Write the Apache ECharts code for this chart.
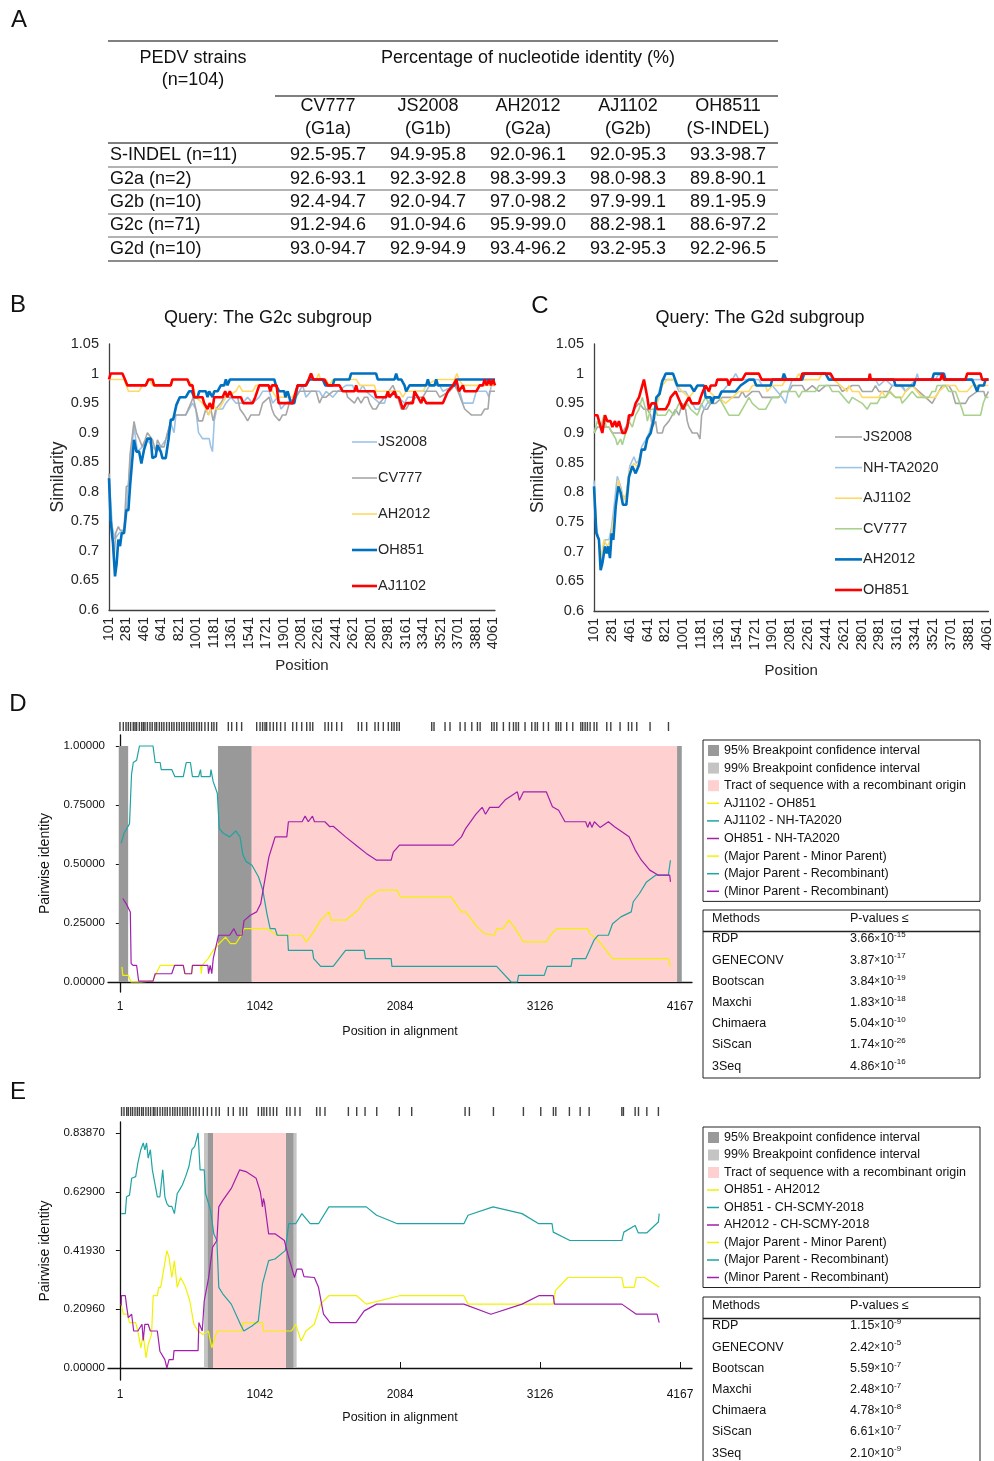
<!DOCTYPE html>
<html>
<head>
<meta charset="utf-8">
<script src="https://cdn.jsdelivr.net/npm/echarts@6/dist/echarts.min.js"></script>
<style>
html,body{margin:0;padding:0;background:#fff;}
#c{width:994px;height:1461px;}
</style>
</head>
<body>
<div id="c"></div>
<script>
// ---------------- DATA ----------------
// Panel A table
const tableHeaderCols = [['CV777','(G1a)'],['JS2008','(G1b)'],['AH2012','(G2a)'],['AJ1102','(G2b)'],['OH8511','(S-INDEL)']];
const tableRowLabels = ['S-INDEL (n=11)','G2a (n=2)','G2b (n=10)','G2c (n=71)','G2d (n=10)'];
const tableValues = [
  ['92.5-95.7','94.9-95.8','92.0-96.1','92.0-95.3','93.3-98.7'],
  ['92.6-93.1','92.3-92.8','98.3-99.3','98.0-98.3','89.8-90.1'],
  ['92.4-94.7','92.0-94.7','97.0-98.2','97.9-99.1','89.1-95.9'],
  ['91.2-94.6','91.0-94.6','95.9-99.0','88.2-98.1','88.6-97.2'],
  ['93.0-94.7','92.9-94.9','93.4-96.2','93.2-95.3','92.2-96.5']
];

// Panels B/C position tick labels
const simPlotTicks = [101,281,461,641,821,1001,1181,1361,1541,1721,1901,2081,2261,2441,2621,2801,2981,3161,3341,3521,3701,3881,4061];

// Panel B (query G2c)
const B_JS2008 = [[101,0.83],[135,0.74],[163,0.72],[204,0.73],[256,0.735],[290,0.79],[325,0.86],[359,0.91],[394,0.868],[445,0.876],[497,0.888],[549,0.876],[600,0.868],[635,0.876],[686,0.888],[738,0.916],[772,0.9],[790,0.93],[893,0.93],[962,0.95],[996,0.94],[1024,0.9],[1065,0.89],[1134,0.89],[1151,0.876],[1168,0.868],[1186,0.92],[1210,0.94],[1272,0.94],[1306,0.95],[1358,0.96],[1409,0.95],[1478,0.95],[1530,0.96],[1582,0.95],[1650,0.96],[1685,0.97],[1753,0.97],[1788,0.95],[1840,0.96],[1874,0.94],[1926,0.95],[2029,0.96],[2098,0.98],[2132,0.96],[2184,0.97],[2271,0.97],[2305,0.96],[2339,0.97],[2408,0.96],[2460,0.97],[2545,0.98],[2614,0.98],[2632,0.97],[2683,0.97],[2718,0.98],[2752,0.97],[2821,0.96],[2890,0.95],[2942,0.95],[2959,0.96],[2993,0.97],[3045,0.97],[3079,0.96],[3148,0.95],[3183,0.96],[3234,0.96],[3269,0.97],[3372,0.97],[3406,0.98],[3510,0.98],[3544,0.97],[3664,0.98],[3716,0.97],[3751,0.95],[3854,0.95],[3888,0.97],[3991,0.97],[4019,0.96],[4043,0.98],[4081,0.98]];
const B_CV777 = [[101,0.831],[118,0.752],[142,0.713],[153,0.685],[170,0.73],[197,0.741],[215,0.735],[256,0.735],[280,0.809],[301,0.81],[318,0.863],[359,0.919],[383,0.9],[411,0.89],[445,0.876],[473,0.888],[497,0.9],[549,0.888],[583,0.868],[600,0.888],[635,0.876],[669,0.876],[704,0.9],[738,0.919],[790,0.93],[893,0.93],[945,0.95],[969,0.96],[996,0.94],[1024,0.92],[1065,0.92],[1100,0.94],[1127,0.93],[1151,0.94],[1175,0.92],[1203,0.94],[1254,0.95],[1289,0.96],[1427,0.96],[1451,0.94],[1495,0.93],[1530,0.92],[1564,0.93],[1650,0.93],[1685,0.95],[1753,0.96],[1781,0.94],[1805,0.93],[1857,0.92],[1891,0.93],[1926,0.93],[1960,0.95],[2029,0.96],[2064,0.97],[2236,0.97],[2271,0.95],[2298,0.96],[2339,0.96],[2408,0.97],[2511,0.97],[2545,0.97],[2562,0.96],[2632,0.95],[2666,0.96],[2700,0.95],[2735,0.96],[2769,0.96],[2787,0.95],[2821,0.94],[2855,0.94],[2890,0.95],[2942,0.96],[3028,0.98],[3079,0.96],[3114,0.94],[3165,0.94],[3200,0.95],[3269,0.96],[3338,0.96],[3372,0.97],[3475,0.97],[3510,0.96],[3613,0.97],[3664,0.98],[3699,0.97],[3768,0.94],[3837,0.93],[3940,0.93],[3974,0.94],[4009,0.94],[4026,0.97],[4081,0.97]];
const B_AH2012 = [[101,0.99],[256,0.99],[280,0.98],[301,0.97],[411,0.97],[445,0.98],[480,0.98],[514,0.99],[549,0.98],[738,0.98],[755,0.99],[910,0.99],[962,0.98],[996,0.96],[1065,0.95],[1100,0.94],[1134,0.93],[1168,0.95],[1203,0.94],[1237,0.94],[1272,0.95],[1306,0.96],[1409,0.97],[1444,0.98],[1478,0.97],[1582,0.97],[1616,0.98],[1753,0.98],[1788,0.97],[1822,0.96],[1995,0.96],[2046,0.98],[2132,0.98],[2167,0.99],[2236,0.99],[2264,1.0],[2281,0.99],[2339,0.99],[2374,0.98],[2408,0.99],[2580,0.99],[2649,0.99],[2690,0.98],[2838,0.98],[2855,0.97],[3045,0.97],[3097,0.97],[3131,0.96],[3165,0.97],[3338,0.97],[3372,0.98],[3475,0.99],[3664,0.99],[3688,1.0],[3709,0.99],[3751,0.98],[4081,0.98]];
const B_OH851 = [[101,0.823],[118,0.752],[142,0.713],[163,0.657],[180,0.679],[197,0.719],[215,0.708],[232,0.73],[256,0.73],[280,0.769],[301,0.769],[318,0.809],[335,0.843],[359,0.888],[383,0.868],[411,0.868],[435,0.848],[462,0.871],[497,0.89],[531,0.89],[549,0.857],[583,0.86],[600,0.879],[635,0.868],[652,0.857],[686,0.857],[714,0.888],[738,0.922],[762,0.922],[796,0.947],[831,0.96],[893,0.96],[927,0.97],[955,0.97],[979,0.96],[1014,0.96],[1031,0.97],[1100,0.97],[1117,0.96],[1134,0.97],[1168,0.96],[1186,0.97],[1220,0.97],[1254,0.98],[1289,0.98],[1306,0.99],[1323,0.98],[1347,0.99],[1805,0.99],[1822,0.98],[1857,0.97],[1909,0.97],[1919,0.96],[1943,0.97],[1977,0.95],[2012,0.95],[2046,0.98],[2132,0.98],[2167,0.99],[2305,0.99],[2332,0.98],[2408,0.98],[2425,0.99],[2580,0.99],[2597,1.0],[2855,1.0],[2872,0.99],[3045,0.99],[3062,1.0],[3079,0.99],[3114,0.99],[3148,0.98],[3165,0.97],[3200,0.98],[3372,0.98],[3389,0.99],[3406,0.98],[3458,0.98],[3475,0.99],[3492,0.98],[3664,0.98],[3682,0.99],[4081,0.99]];
const B_AJ1102 = [[101,0.99],[118,1.0],[239,1.0],[266,0.99],[290,0.98],[480,0.98],[507,0.99],[549,0.99],[566,0.98],[738,0.98],[755,0.99],[910,0.99],[934,0.98],[962,0.98],[979,0.96],[1065,0.96],[1082,0.95],[1100,0.95],[1117,0.94],[1140,0.95],[1168,0.94],[1186,0.96],[1272,0.96],[1299,0.97],[1320,0.96],[1347,0.97],[1375,0.96],[1461,0.96],[1485,0.95],[1582,0.95],[1609,0.96],[1650,0.98],[1747,0.98],[1764,0.97],[1781,0.98],[1829,0.98],[1850,0.95],[1995,0.95],[2046,0.98],[2132,0.98],[2160,0.99],[2184,1.0],[2208,0.99],[2322,0.99],[2356,0.98],[2477,0.98],[2511,0.97],[2632,0.97],[2649,0.98],[2666,0.97],[2838,0.97],[2855,0.96],[2959,0.96],[2976,0.97],[2993,0.96],[3045,0.97],[3062,0.96],[3090,0.96],[3131,0.94],[3165,0.95],[3234,0.95],[3251,0.97],[3286,0.96],[3320,0.95],[3338,0.96],[3372,0.95],[3544,0.95],[3596,0.97],[3647,0.98],[3682,0.99],[3709,0.97],[3750,0.98],[3768,0.97],[3888,0.97],[3923,0.98],[3957,0.98],[3974,0.99],[3996,0.98],[4019,0.99],[4040,0.98],[4061,0.99],[4081,0.98]];

// Panel C (query G2d)
const C_JS2008 = [[101,0.9],[135,0.91],[168,0.91],[252,0.91],[286,0.9],[387,0.9],[454,0.92],[504,0.94],[555,0.95],[605,0.94],[639,0.94],[673,0.93],[689,0.91],[723,0.92],[740,0.9],[790,0.9],[807,0.91],[857,0.92],[891,0.93],[925,0.94],[958,0.93],[992,0.95],[1025,0.94],[1042,0.92],[1059,0.91],[1093,0.9],[1143,0.9],[1170,0.89],[1187,0.93],[1210,0.94],[1244,0.94],[1278,0.95],[1328,0.95],[1395,0.96],[1563,0.96],[1597,0.97],[1631,0.96],[1698,0.97],[1765,0.97],[1799,0.96],[1967,0.96],[2000,0.97],[2068,0.97],[2101,0.98],[2202,0.98],[2235,0.97],[2303,0.98],[2370,0.97],[2437,0.98],[2572,0.98],[2605,0.97],[2706,0.98],[2773,0.98],[2807,0.97],[2908,0.97],[2941,0.98],[2975,0.97],[3076,0.97],[3109,0.98],[3210,0.98],[3244,0.97],[3311,0.98],[3378,0.97],[3446,0.96],[3513,0.95],[3546,0.96],[3614,0.98],[3681,0.98],[3715,0.97],[3748,0.95],[3849,0.95],[3883,0.96],[3967,0.97],[4034,0.97],[4051,0.96],[4081,0.97]];
const C_NHTA2020 = [[101,0.82],[125,0.74],[151,0.72],[168,0.686],[212,0.72],[252,0.72],[279,0.742],[303,0.776],[336,0.827],[370,0.81],[393,0.793],[427,0.793],[461,0.844],[504,0.86],[528,0.849],[555,0.854],[582,0.877],[622,0.888],[656,0.9],[689,0.92],[723,0.95],[757,0.97],[790,0.99],[908,0.99],[958,0.97],[1025,0.97],[1059,0.96],[1093,0.95],[1126,0.94],[1160,0.94],[1187,0.95],[1210,0.94],[1244,0.95],[1294,0.96],[1361,0.96],[1395,0.97],[1446,0.98],[1496,0.99],[1530,1.0],[1563,0.99],[1765,0.99],[1799,0.98],[1899,0.98],[1950,0.97],[2000,0.96],[2034,0.95],[2060,0.97],[2101,0.99],[2202,0.99],[2235,1.0],[2471,1.0],[2504,0.99],[2941,0.99],[2975,0.98],[3042,0.99],[3109,0.98],[3193,0.98],[3244,0.97],[3294,0.98],[3345,0.99],[3362,1.0],[3378,0.99],[3546,0.99],[3580,1.0],[3614,0.99],[4081,0.99]];
const C_AJ1102 = [[101,0.81],[125,0.73],[151,0.72],[168,0.686],[202,0.72],[235,0.709],[269,0.72],[286,0.742],[320,0.776],[346,0.821],[370,0.804],[404,0.787],[427,0.799],[461,0.838],[504,0.849],[538,0.843],[572,0.866],[615,0.877],[656,0.894],[689,0.916],[723,0.94],[757,0.96],[790,0.98],[840,0.99],[908,0.99],[941,0.98],[992,0.97],[1059,0.96],[1110,0.97],[1160,0.98],[1227,0.98],[1261,0.97],[1328,0.96],[1361,0.96],[1429,0.95],[1496,0.96],[1563,0.97],[1664,0.97],[1698,0.98],[1832,0.98],[1849,0.97],[1899,0.98],[2000,0.98],[2034,0.99],[2135,0.99],[2168,1.0],[2202,0.99],[2370,0.99],[2403,1.0],[2488,1.0],[2521,0.99],[2588,0.98],[2655,0.97],[2672,0.98],[2706,0.97],[2773,0.97],[2807,0.96],[2975,0.96],[3008,0.97],[3042,0.96],[3092,0.97],[3143,0.96],[3210,0.96],[3244,0.97],[3311,0.98],[3362,0.97],[3412,0.96],[3546,0.96],[3580,0.97],[3648,0.98],[3748,0.98],[3782,0.97],[3866,0.97],[3916,0.98],[4081,0.98]];
const C_CV777 = [[101,0.9],[135,0.92],[168,0.91],[202,0.93],[225,0.91],[252,0.91],[286,0.9],[320,0.89],[336,0.88],[370,0.89],[387,0.88],[420,0.9],[454,0.92],[488,0.91],[521,0.93],[555,0.94],[588,0.96],[622,0.94],[639,0.92],[673,0.94],[723,0.94],[740,0.93],[824,0.93],[857,0.94],[908,0.93],[958,0.95],[1009,0.94],[1042,0.95],[1076,0.94],[1143,0.93],[1193,0.95],[1227,0.96],[1261,0.95],[1328,0.96],[1361,0.96],[1395,0.95],[1429,0.94],[1462,0.93],[1563,0.93],[1597,0.94],[1631,0.95],[1664,0.96],[1698,0.95],[1765,0.94],[1832,0.94],[1866,0.95],[1899,0.96],[1967,0.96],[2000,0.97],[2135,0.97],[2168,0.96],[2202,0.97],[2336,0.97],[2370,0.98],[2471,0.98],[2504,0.97],[2572,0.97],[2622,0.96],[2672,0.95],[2706,0.96],[2807,0.95],[2857,0.94],[2891,0.95],[2958,0.95],[2992,0.96],[3042,0.96],[3076,0.97],[3143,0.96],[3193,0.96],[3210,0.95],[3261,0.96],[3311,0.97],[3362,0.96],[3479,0.96],[3513,0.97],[3546,0.97],[3563,0.98],[3648,0.98],[3681,0.97],[3748,0.97],[3815,0.94],[3832,0.93],[4001,0.93],[4028,0.95],[4051,0.96],[4081,0.96]];
const C_AH2012 = [[101,0.81],[125,0.731],[151,0.72],[168,0.669],[185,0.68],[212,0.709],[229,0.697],[246,0.709],[262,0.689],[279,0.731],[296,0.72],[320,0.776],[346,0.81],[370,0.799],[393,0.779],[427,0.779],[454,0.826],[488,0.844],[521,0.832],[555,0.846],[582,0.872],[615,0.872],[639,0.891],[673,0.9],[706,0.925],[730,0.96],[763,0.966],[790,0.987],[824,1.0],[898,1.0],[941,0.98],[1076,0.98],[1110,0.97],[1143,0.98],[1210,0.98],[1227,0.96],[1278,0.96],[1294,0.95],[1311,0.96],[1361,0.96],[1388,0.97],[1530,0.97],[1580,0.98],[1664,0.99],[1714,0.99],[1738,0.98],[1883,0.98],[1899,0.99],[2000,0.99],[2017,1.0],[2040,0.99],[2202,0.99],[2219,1.0],[2437,1.0],[2471,0.99],[3126,0.99],[3143,0.98],[3328,0.98],[3345,0.99],[3513,0.99],[3530,1.0],[3631,1.0],[3648,0.99],[3916,0.99],[3943,0.98],[3967,0.97],[3984,0.98],[4034,0.98],[4051,0.99],[4081,0.99]];
const C_OH851 = [[101,0.93],[135,0.93],[168,0.91],[185,0.9],[212,0.93],[235,0.92],[269,0.92],[286,0.91],[313,0.92],[330,0.91],[353,0.92],[370,0.92],[387,0.9],[414,0.9],[437,0.91],[454,0.93],[488,0.93],[521,0.95],[555,0.96],[572,0.97],[605,0.99],[639,0.96],[656,0.94],[683,0.95],[723,0.95],[740,0.94],[824,0.94],[857,0.95],[874,0.96],[891,0.96],[925,0.97],[950,0.96],[975,0.95],[999,0.94],[1025,0.95],[1059,0.96],[1086,0.95],[1160,0.95],[1177,0.96],[1200,0.97],[1227,0.98],[1261,0.97],[1278,0.98],[1328,0.98],[1345,0.99],[1446,0.99],[1462,0.98],[1486,0.99],[1597,0.99],[1631,1.0],[1765,1.0],[1792,0.99],[2185,0.99],[2202,1.0],[2488,1.0],[2521,0.99],[2874,0.99],[2884,1.0],[2894,0.99],[3597,0.99],[3614,1.0],[3631,0.99],[3849,0.99],[3866,1.0],[4001,1.0],[4017,0.99],[4081,0.99]];

// Panels D/E (RDP plots)
const rdpXTicks = [1,1042,2084,3126,4167];
const D_yTicks = [0,0.25,0.5,0.75,1.0];
const E_yTicks = [0,0.2096,0.4193,0.629,0.8387];

const D_majorMinor = [[16,0.064],[22,0.028],[62,0.028],[84,0.0],[155,0.0],[160,0.005],[247,0.005],[263,0.028],[300,0.07],[472,0.07],[484,0.035],[534,0.035],[540,0.07],[601,0.07],[606,0.035],[612,0.07],[657,0.099],[694,0.134],[740,0.163],[786,0.19],[823,0.163],[863,0.163],[894,0.19],[924,0.226],[1094,0.226],[1171,0.198],[1356,0.198],[1387,0.17],[1433,0.205],[1494,0.262],[1556,0.297],[1571,0.262],[1679,0.262],[1771,0.304],[1833,0.354],[1925,0.389],[2064,0.389],[2085,0.361],[2464,0.361],[2541,0.297],[2572,0.297],[2649,0.24],[2711,0.205],[2788,0.198],[2803,0.226],[2850,0.226],[2895,0.262],[2941,0.226],[3003,0.17],[3172,0.17],[3203,0.198],[3249,0.226],[3480,0.226],[3496,0.205],[3557,0.177],[3665,0.099],[4080,0.099],[4096,0.064]];
const D_majorRec = [[10,0.587],[31,0.63],[72,0.67],[87,0.88],[100,0.93],[125,0.94],[146,1.0],[247,1.0],[263,0.93],[300,0.93],[308,0.9],[386,0.9],[410,0.87],[472,0.87],[494,0.93],[525,0.93],[540,0.87],[586,0.87],[600,0.9],[606,0.87],[647,0.87],[672,0.87],[678,0.9],[694,0.85],[725,0.8],[740,0.65],[770,0.63],[817,0.615],[863,0.64],[894,0.615],[915,0.54],[940,0.51],[983,0.495],[1032,0.445],[1063,0.39],[1094,0.29],[1118,0.226],[1155,0.226],[1171,0.198],[1248,0.198],[1254,0.134],[1433,0.134],[1442,0.099],[1494,0.066],[1587,0.066],[1679,0.134],[1818,0.134],[1827,0.099],[2018,0.099],[2024,0.066],[2803,0.066],[2911,0.0],[2957,0.0],[2966,0.028],[3157,0.028],[3179,0.066],[3357,0.066],[3366,0.099],[3465,0.099],[3527,0.177],[3557,0.198],[3634,0.198],[3665,0.247],[3727,0.276],[3804,0.297],[3819,0.34],[3865,0.375],[3918,0.424],[3988,0.453],[4080,0.453],[4096,0.516]];
const D_minorRec = [[22,0.354],[47,0.332],[78,0.297],[84,0.078],[100,0.07],[125,0.07],[140,0.004],[247,0.004],[263,0.035],[386,0.035],[407,0.07],[472,0.07],[484,0.035],[534,0.035],[540,0.07],[640,0.07],[655,0.07],[660,0.035],[672,0.07],[678,0.07],[684,0.035],[695,0.1],[734,0.198],[817,0.198],[848,0.226],[872,0.198],[909,0.198],[924,0.26],[971,0.283],[1017,0.297],[1048,0.332],[1078,0.431],[1109,0.53],[1140,0.587],[1155,0.615],[1242,0.615],[1254,0.679],[1356,0.679],[1378,0.703],[1402,0.679],[1433,0.703],[1448,0.679],[1525,0.679],[1562,0.658],[1587,0.66],[1679,0.615],[1771,0.573],[1833,0.545],[1910,0.516],[2018,0.516],[2034,0.55],[2080,0.58],[2480,0.58],[2541,0.615],[2572,0.65],[2649,0.711],[2695,0.74],[2720,0.711],[2751,0.74],[2818,0.74],[2865,0.771],[2957,0.806],[2972,0.77],[3003,0.806],[3172,0.806],[3218,0.743],[3264,0.728],[3311,0.679],[3465,0.679],[3480,0.655],[3496,0.679],[3511,0.655],[3530,0.679],[3572,0.655],[3634,0.679],[3680,0.658],[3788,0.615],[3834,0.559],[3880,0.516],[3942,0.474],[4003,0.453],[4090,0.453],[4096,0.424]];
const D_ci95 = [[-8,62,0,1],[730,980,0,1],[4145,4180,0,1]];
const D_ci99 = [];
const D_tract = [[980,4145,0,1]];
const D_sites = [1,26,46,63,80,100,113,125,145,162,175,187,205,224,241,261,274,294,311,328,348,368,386,403,423,442,460,477,497,517,534,551,571,591,608,633,658,683,700,720,807,832,869,906,1018,1043,1062,1080,1092,1117,1142,1167,1196,1229,1286,1315,1353,1390,1415,1435,1526,1551,1576,1613,1650,1774,1799,1836,1898,1923,1960,1997,2022,2040,2060,2079,2320,2337,2419,2456,2531,2568,2618,2660,2680,2766,2784,2804,2853,2898,2928,2947,2965,3014,3064,3089,3106,3151,3188,3245,3262,3280,3324,3369,3429,3443,3461,3478,3498,3528,3548,3622,3652,3721,3783,3808,3845,3944,4081];

const E_majorMinor = [[10,0.228],[26,0.192],[57,0.192],[72,0.162],[118,0.162],[134,0.132],[156,0.072],[174,0.12],[195,0.036],[211,0.084],[236,0.12],[248,0.258],[279,0.258],[289,0.288],[304,0.288],[350,0.419],[366,0.395],[387,0.323],[406,0.383],[427,0.288],[452,0.323],[489,0.288],[520,0.24],[551,0.156],[582,0.132],[619,0.12],[659,0.132],[684,0.072],[722,0.132],[907,0.132],[917,0.162],[1061,0.162],[1070,0.132],[1277,0.132],[1308,0.156],[1348,0.096],[1385,0.132],[1447,0.156],[1493,0.228],[1555,0.258],[1762,0.258],[1833,0.228],[2080,0.258],[2559,0.258],[2590,0.228],[3224,0.228],[3240,0.276],[3332,0.323],[3734,0.323],[3749,0.288],[3826,0.288],[3842,0.323],[3903,0.323],[4012,0.288]];
const E_majorRec = [[10,0.551],[41,0.551],[50,0.611],[72,0.617],[88,0.677],[118,0.683],[134,0.731],[156,0.779],[174,0.803],[186,0.779],[199,0.803],[211,0.749],[227,0.779],[242,0.707],[279,0.611],[298,0.611],[319,0.707],[335,0.611],[350,0.587],[366,0.577],[387,0.577],[406,0.551],[427,0.623],[443,0.635],[465,0.653],[489,0.683],[514,0.719],[536,0.779],[557,0.791],[582,0.8387],[597,0.707],[628,0.707],[637,0.623],[675,0.563],[699,0.479],[722,0.455],[736,0.288],[767,0.264],[829,0.228],[891,0.162],[922,0.132],[983,0.15],[1030,0.168],[1061,0.3],[1107,0.383],[1154,0.389],[1231,0.419],[1256,0.515],[1308,0.515],[1354,0.551],[1416,0.515],[1478,0.515],[1555,0.575],[1833,0.575],[1910,0.545],[2065,0.515],[2559,0.515],[2590,0.545],[2776,0.575],[2992,0.551],[3116,0.515],[3215,0.515],[3224,0.485],[3348,0.455],[3734,0.455],[3749,0.485],[3833,0.509],[3857,0.482],[3919,0.482],[4006,0.521],[4012,0.551]];
const E_minorRec = [[10,0.222],[12,0.258],[41,0.258],[50,0.222],[63,0.18],[88,0.192],[103,0.132],[134,0.132],[165,0.156],[174,0.098],[186,0.156],[211,0.156],[227,0.132],[279,0.132],[298,0.06],[335,0.03],[350,0.0],[366,0.03],[397,0.03],[403,0.062],[582,0.062],[588,0.162],[613,0.132],[628,0.24],[659,0.318],[690,0.431],[722,0.455],[736,0.575],[767,0.599],[829,0.641],[891,0.707],[938,0.701],[1014,0.677],[1045,0.629],[1061,0.575],[1068,0.605],[1076,0.59],[1107,0.479],[1154,0.479],[1224,0.455],[1256,0.395],[1299,0.323],[1317,0.353],[1354,0.353],[1370,0.326],[1447,0.323],[1478,0.288],[1515,0.192],[1564,0.162],[1756,0.162],[1818,0.204],[1910,0.228],[2559,0.228],[2760,0.192],[2992,0.228],[3116,0.258],[3224,0.258],[3233,0.228],[3734,0.228],[3842,0.192],[3996,0.192],[4012,0.162]];
const E_ci99 = [[626,660,0,0.8387],[1290,1315,0,0.8387]];
const E_ci95 = [[655,693,0,0.8387],[1236,1292,0,0.8387]];
const E_tract = [[693,1236,0,0.8387]];
const E_sites = [13,31,51,63,80,95,113,130,145,162,175,194,212,229,249,261,279,299,318,336,353,373,393,410,428,447,467,485,502,522,547,566,591,621,651,683,715,740,807,844,894,918,943,1030,1055,1072,1092,1117,1142,1167,1241,1266,1303,1340,1464,1489,1526,1700,1762,1824,1911,2079,2171,2568,2600,2779,3002,3131,3225,3243,3344,3424,3491,3734,3746,3833,3858,3920,4006];

// legends / methods tables
const legendCommon = ['95% Breakpoint confidence interval','99% Breakpoint confidence interval','Tract of sequence with a recombinant origin'];
const legendRoles = ['(Major Parent - Minor Parent)','(Major Parent - Recombinant)','(Minor Parent - Recombinant)'];
const D_pairs = ['AJ1102 - OH851','AJ1102 - NH-TA2020','OH851 - NH-TA2020'];
const E_pairs = ['OH851 - AH2012','OH851 - CH-SCMY-2018','AH2012 - CH-SCMY-2018'];
const methods = ['RDP','GENECONV','Bootscan','Maxchi','Chimaera','SiScan','3Seq'];
const D_pvals = [['3.66','-15'],['3.87','-17'],['3.84','-19'],['1.83','-18'],['5.04','-10'],['1.74','-26'],['4.86','-16']];
const E_pvals = [['1.15','-9'],['2.42','-5'],['5.59','-7'],['2.48','-7'],['4.78','-8'],['6.61','-7'],['2.10','-9']];

// ---------------- STYLE ----------------
const FF = '"Liberation Sans", Arial, sans-serif';
const COL = {
  lblue:'#9dc3e6', grey:'#a6a6a6', lyellow:'#ffd966', blue:'#0070c0', red:'#ff0000', lgreen:'#a9d18e',
  ryellow:'#f2f200', rteal:'#1fa3a3', rpurple:'#a11fad', pink:'#ffd0d0', ci95:'#999999', ci99:'#c4c4c4'
};

function txt(x, y, text, size, align, extra) {
  const st = Object.assign({text: text, fill: '#111', font: size + 'px ' + FF,
    textAlign: align || 'center', align: align || 'center',
    textVerticalAlign: 'middle', verticalAlign: 'middle'}, extra || {});
  return {type:'text', x: x, y: y, style: st, silent: true};
}
function hline(x1, x2, y, w, c) {
  return {type:'line', shape:{x1:x1, y1:y, x2:x2, y2:y}, style:{stroke:c || '#000', lineWidth:w || 1}, silent:true};
}
function boxRect(x, y, w, h) {
  return {type:'rect', shape:{x:x, y:y, width:w, height:h}, style:{fill:'none', stroke:'#222', lineWidth:1}, silent:true};
}

const G = [];
// panel letters
[['A',19,20],['B',18,305],['C',540,306],['D',18,704],['E',18,1092]].forEach(l => G.push(txt(l[1], l[2], l[0], 24)));

// ---- Table A ----
const colX = [328, 428, 528, 628, 728];
const rowY = [155, 179, 202, 225, 249];
G.push(hline(108, 778, 41, 2, '#808080'));
G.push(hline(275, 778, 96, 2, '#808080'));
G.push(hline(108, 778, 143, 1.3, '#555'));
[167, 190, 214, 237].forEach(y => G.push(hline(108, 778, y, 1, '#666')));
G.push(hline(108, 778, 261, 1.5, '#666'));
G.push(txt(193, 58, 'PEDV strains', 18));
G.push(txt(193, 80, '(n=104)', 18));
G.push(txt(528, 58, 'Percentage of nucleotide identity (%)', 18));
tableHeaderCols.forEach((h, i) => { G.push(txt(colX[i], 106, h[0], 18)); G.push(txt(colX[i], 129, h[1], 18)); });
tableRowLabels.forEach((r, i) => {
  G.push(txt(110, rowY[i], r, 18, 'left'));
  tableValues[i].forEach((v, j) => G.push(txt(colX[j], rowY[i], v, 18)));
});

// ---- titles B/C ----
G.push(txt(268, 318, 'Query: The G2c subgroup', 18));
G.push(txt(760, 318, 'Query: The G2d subgroup', 18));

// legends B / C
const B_leg = [['JS2008', COL.lblue, 1.6], ['CV777', COL.grey, 1.6], ['AH2012', COL.lyellow, 1.6], ['OH851', COL.blue, 2.6], ['AJ1102', COL.red, 2.6]];
B_leg.forEach((l, i) => {
  const y = 442 + i * 36;
  G.push({type:'line', shape:{x1:352, y1:y, x2:377, y2:y}, style:{stroke:l[1], lineWidth:l[2]}, silent:true});
  G.push(txt(378, y, l[0], 14.5, 'left', {fill:'#262626'}));
});
const C_leg = [['JS2008', COL.grey, 1.6], ['NH-TA2020', COL.lblue, 1.6], ['AJ1102', COL.lyellow, 1.6], ['CV777', COL.lgreen, 1.6], ['AH2012', COL.blue, 2.6], ['OH851', COL.red, 2.6]];
C_leg.forEach((l, i) => {
  const y = 437 + i * 30.6;
  G.push({type:'line', shape:{x1:835, y1:y, x2:862, y2:y}, style:{stroke:l[1], lineWidth:l[2]}, silent:true});
  G.push(txt(863, y, l[0], 14.5, 'left', {fill:'#262626'}));
});

// RDP legends and methods tables
function rdpLegend(top, step, pairs) {
  G.push(boxRect(703, top, 277, step * 9 + 3));
  const icons = [COL.ci95, COL.ci99, COL.pink];
  const lineCols = [COL.ryellow, COL.rteal, COL.rpurple, COL.ryellow, COL.rteal, COL.rpurple];
  const labels = legendCommon.concat(pairs, legendRoles);
  labels.forEach((lab, i) => {
    const y = top + 10.5 + i * step;
    if (i < 3) G.push({type:'rect', shape:{x:708, y:y - 5.5, width:11, height:11}, style:{fill:icons[i]}, silent:true});
    else G.push({type:'line', shape:{x1:707, y1:y, x2:719, y2:y}, style:{stroke:lineCols[i - 3], lineWidth:1.5}, silent:true});
    G.push(txt(724, y, lab, 12.5, 'left'));
  });
}
function methodsTable(top, h, rowTop, step, pvals) {
  G.push(boxRect(703, top, 277, h));
  G.push(txt(712, top + 9, 'Methods', 12.5, 'left'));
  G.push(txt(850, top + 9, 'P-values \u2264', 12.5, 'left'));
  G.push(hline(703, 980, top + 21.5, 1.6, '#222'));
  methods.forEach((m, i) => {
    const y = rowTop + i * step;
    G.push(txt(712, y, m, 12.5, 'left'));
    G.push({type:'text', x:850, y:y, silent:true, style:{
      text:'{m|' + pvals[i][0] + '}{x|\u00d7}{m|10}{s|' + pvals[i][1] + '}',
      textAlign:'left', align:'left', textVerticalAlign:'middle', verticalAlign:'middle',
      rich:{
        m:{fontSize:12.5, fontFamily:FF, fill:'#111', lineHeight:16},
        x:{fontSize:10, fontFamily:FF, fill:'#111', lineHeight:16},
        s:{fontSize:8, fontFamily:FF, fill:'#111', lineHeight:9, verticalAlign:'top'}
      }}});
  });
}
rdpLegend(740, 17.6, D_pairs);
methodsTable(910, 168, 939, 21.2, D_pvals);
rdpLegend(1127, 17.5, E_pairs);
methodsTable(1297, 175, 1326, 21.2, E_pvals);

// ---------------- CHART ----------------
const chart = echarts.init(document.getElementById('c'), null, {renderer:'canvas'});
const plain = v => String(v);

function simX(grid, gap) {
  return {type:'value', gridIndex:grid, min:101, max:4081,
    axisLine:{show:true, lineStyle:{color:'#404040', width:1.3}}, axisTick:{show:false}, splitLine:{show:false},
    axisLabel:{customValues:simPlotTicks, rotate:90, fontSize:14.5, fontFamily:FF, color:'#262626', margin:7, formatter:plain},
    name:'Position', nameLocation:'middle', nameGap:gap, nameTextStyle:{fontSize:15, fontFamily:FF, color:'#262626'}};
}
function simY(grid, gap) {
  return {type:'value', gridIndex:grid, min:0.6, max:1.05, interval:0.05,
    axisLine:{show:true, lineStyle:{color:'#404040', width:1.3}}, axisTick:{show:false}, splitLine:{show:false},
    axisLabel:{fontSize:14.5, fontFamily:FF, color:'#262626', margin:10, formatter: v => String(parseFloat(v.toFixed(2)))},
    name:'Similarity', nameLocation:'middle', nameGap:gap, nameRotate:90, nameTextStyle:{fontSize:17.5, fontFamily:FF, color:'#262626'}};
}
function rdpX(grid, gap) {
  return {type:'value', gridIndex:grid, min:-88, max:4256,
    axisLine:{show:true, lineStyle:{color:'#111', width:1.3}}, splitLine:{show:false},
    axisTick:{show:true, inside:true, length:6, customValues:rdpXTicks, lineStyle:{color:'#111'}},
    axisLabel:{customValues:rdpXTicks, fontSize:12, fontFamily:FF, color:'#111', margin:9, formatter:plain},
    name:'Position in alignment', nameLocation:'middle', nameGap:gap, nameTextStyle:{fontSize:12.5, fontFamily:FF, color:'#111'}};
}
function rdpY(grid, min, max, ticks) {
  return {type:'value', gridIndex:grid, min:min, max:max,
    axisLine:{show:true, lineStyle:{color:'#111', width:1.3}}, splitLine:{show:false},
    axisTick:{show:true, length:4, customValues:ticks, lineStyle:{color:'#111'}},
    axisLabel:{customValues:ticks, fontSize:11.5, fontFamily:FF, color:'#111', margin:3, formatter: v => v.toFixed(5)},
    name:'Pairwise identity', nameLocation:'middle', nameGap:52, nameRotate:90, nameTextStyle:{fontSize:14, fontFamily:FF, color:'#111'}};
}
function hiddenX(grid) { return {type:'value', gridIndex:grid, min:-88, max:4256, show:false}; }
function hiddenY(grid) { return {type:'value', gridIndex:grid, min:0, max:1, show:false}; }

function lineS(name, xi, yi, data, color, width, z) {
  return {type:'line', name:name, xAxisIndex:xi, yAxisIndex:yi, data:data, showSymbol:false, symbol:'none',
    lineStyle:{color:color, width:width}, itemStyle:{color:color}, z:z || 3, silent:true, animation:false};
}
function bandS(xi, yi, data, color, z) {
  return {type:'custom', xAxisIndex:xi, yAxisIndex:yi, data:data, z:z, silent:true, animation:false,
    encode:{x:[0,1], y:[2,3]},
    renderItem:(params, api) => {
      const p0 = api.coord([api.value(0), api.value(3)]);
      const p1 = api.coord([api.value(1), api.value(2)]);
      return {type:'rect', shape:{x:p0[0], y:p0[1], width:p1[0] - p0[0], height:p1[1] - p0[1]}, style:{fill:color}};
    }};
}
function sitesS(xi, yi, sites) {
  return {type:'scatter', xAxisIndex:xi, yAxisIndex:yi, data:sites.map(p => [p, 0.5]),
    symbol:'rect', symbolSize:[1.4, 9], itemStyle:{color:'#111'}, silent:true, animation:false};
}

const option = {
  animation:false,
  backgroundColor:'#fff',
  textStyle:{fontFamily:FF},
  grid:[
    {left:109, top:344, width:386, height:266},
    {left:594, top:344, width:396, height:267},
    {left:108, top:735, width:584, height:257},
    {left:108, top:722, width:584, height:9},
    {left:108, top:1122, width:584, height:258},
    {left:108, top:1107, width:584, height:9}
  ],
  xAxis:[simX(0, 48), simX(1, 52), rdpX(2, 33), hiddenX(3), rdpX(4, 31), hiddenX(5)],
  yAxis:[simY(0, 42), simY(1, 47), rdpY(2, -0.0424, 1.0466, D_yTicks), hiddenY(3), rdpY(4, -0.0428, 0.878, E_yTicks), hiddenY(5)],
  series:[
    lineS('JS2008', 0, 0, B_JS2008, COL.lblue, 1.6),
    lineS('CV777', 0, 0, B_CV777, COL.grey, 1.6),
    lineS('AH2012', 0, 0, B_AH2012, COL.lyellow, 1.6),
    lineS('OH851', 0, 0, B_OH851, COL.blue, 2.6, 4),
    lineS('AJ1102', 0, 0, B_AJ1102, COL.red, 2.6, 5),

    lineS('JS2008', 1, 1, C_JS2008, COL.grey, 1.6),
    lineS('NH-TA2020', 1, 1, C_NHTA2020, COL.lblue, 1.6),
    lineS('AJ1102', 1, 1, C_AJ1102, COL.lyellow, 1.6),
    lineS('CV777', 1, 1, C_CV777, COL.lgreen, 1.6),
    lineS('AH2012', 1, 1, C_AH2012, COL.blue, 2.6, 4),
    lineS('OH851', 1, 1, C_OH851, COL.red, 2.6, 5),

    bandS(2, 2, D_tract, COL.pink, 1),
    bandS(2, 2, D_ci99, COL.ci99, 1),
    bandS(2, 2, D_ci95, COL.ci95, 1),
    lineS('AJ1102 - OH851', 2, 2, D_majorMinor, COL.ryellow, 1.2),
    lineS('AJ1102 - NH-TA2020', 2, 2, D_majorRec, COL.rteal, 1.2),
    lineS('OH851 - NH-TA2020', 2, 2, D_minorRec, COL.rpurple, 1.2),
    sitesS(3, 3, D_sites),

    bandS(4, 4, E_tract, COL.pink, 1),
    bandS(4, 4, E_ci99, COL.ci99, 1),
    bandS(4, 4, E_ci95, COL.ci95, 1),
    lineS('OH851 - AH2012', 4, 4, E_majorMinor, COL.ryellow, 1.2),
    lineS('OH851 - CH-SCMY-2018', 4, 4, E_majorRec, COL.rteal, 1.2),
    lineS('AH2012 - CH-SCMY-2018', 4, 4, E_minorRec, COL.rpurple, 1.2),
    sitesS(5, 5, E_sites)
  ],
  graphic:{elements:G}
};
chart.setOption(option);
</script>
</body>
</html>
